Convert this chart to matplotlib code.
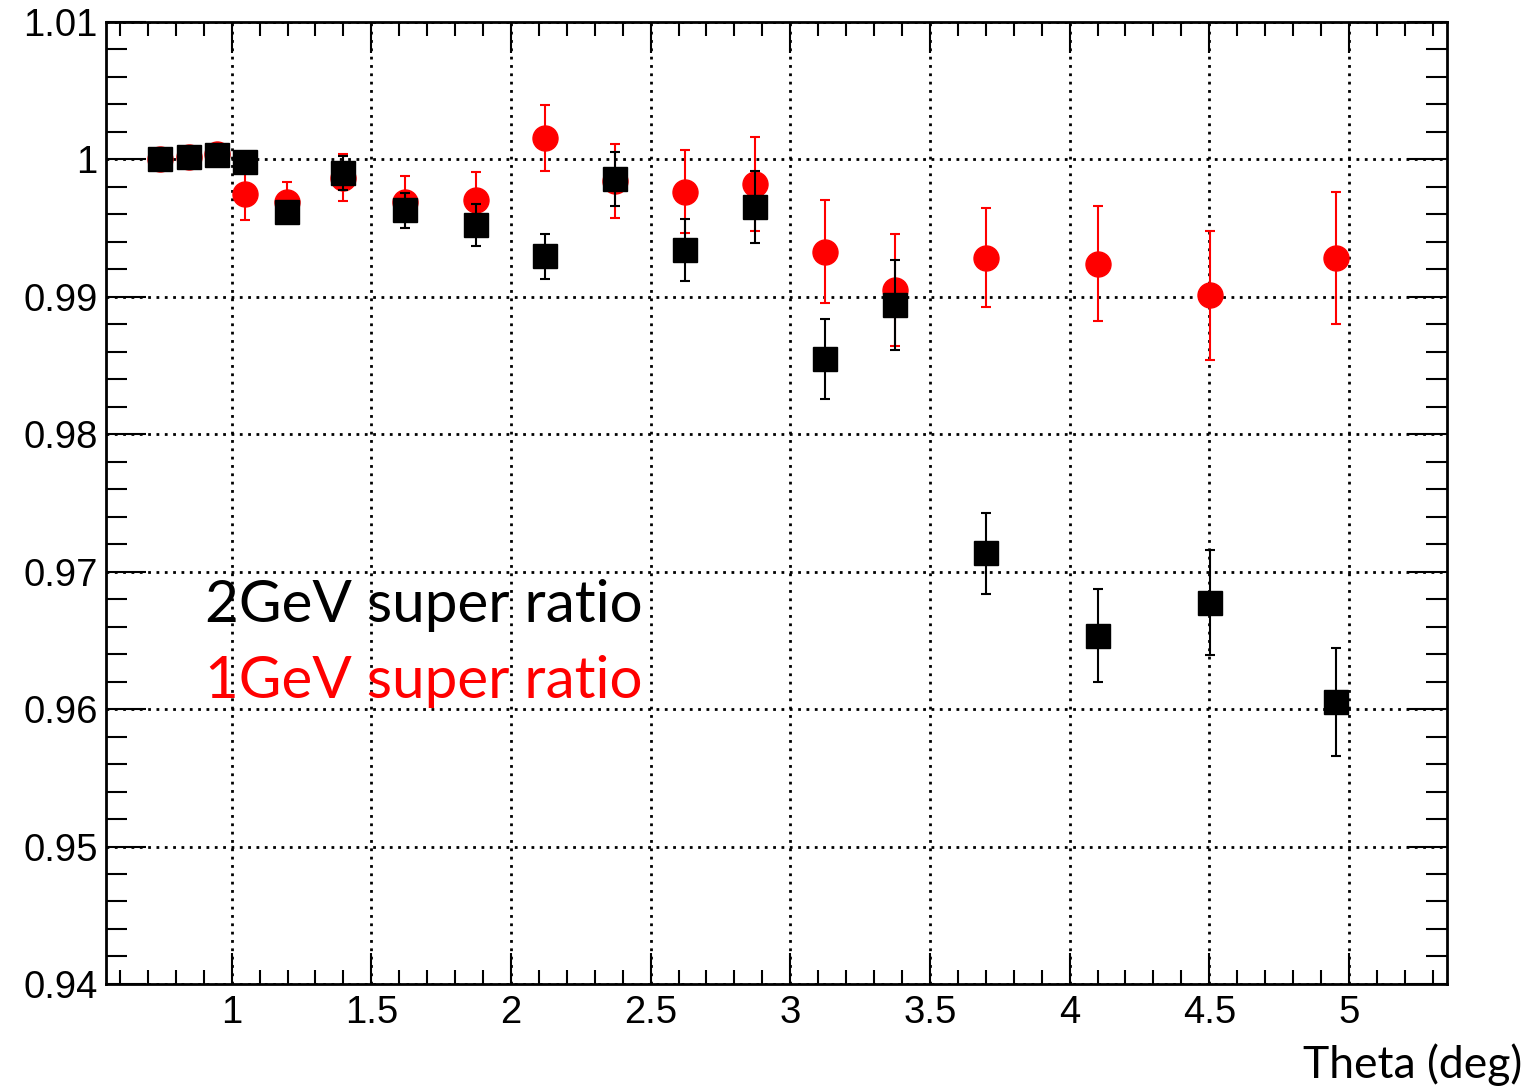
import matplotlib
matplotlib.use("Agg")
import matplotlib.pyplot as plt
from matplotlib.ticker import MultipleLocator, FuncFormatter

# theta bins (deg)
theta = [0.745, 0.848, 0.947, 1.047, 1.198, 1.397, 1.622, 1.873, 2.123,
         2.373, 2.623, 2.874, 3.125, 3.376, 3.699, 4.103, 4.504, 4.953]

# 2 GeV super ratio (black squares)
ratio_2gev = [1.0000, 1.0002, 1.0003, 0.99979, 0.99620, 0.99899, 0.99630, 0.99523, 0.99295,
              0.99860, 0.99341, 0.99652, 0.98546, 0.98941, 0.97134, 0.96535, 0.96775, 0.96050]
err_2gev = [0.00005, 0.00010, 0.00012, 0.00014, 0.00010, 0.00125, 0.00127, 0.00150, 0.00164,
            0.00196, 0.00226, 0.00260, 0.00289, 0.00326, 0.00293, 0.00340, 0.00382, 0.00392]

# 1 GeV super ratio (red circles)
ratio_1gev = [1.0000, 1.0002, 1.0004, 0.99746, 0.99687, 0.99867, 0.99692, 0.99705, 1.00154,
              0.99841, 0.99765, 0.99821, 0.99329, 0.99052, 0.99285, 0.99241, 0.99011, 0.99283]
err_1gev = [0.00005, 0.00010, 0.00017, 0.00190, 0.00150, 0.00170, 0.00188, 0.00206, 0.00242,
            0.00270, 0.00303, 0.00342, 0.00373, 0.00407, 0.00361, 0.00420, 0.00470, 0.00480]

fig = plt.figure(figsize=(15.27, 10.87), dpi=100)
ax = fig.add_axes([0.0694, 0.0948, 0.8780, 0.8850])

ax.errorbar(theta, ratio_1gev, yerr=err_1gev, fmt='o', color='#ff0000', ms=18,
            elinewidth=1.5, capsize=3.5, capthick=1.5, zorder=3)
ax.errorbar(theta, ratio_2gev, yerr=err_2gev, fmt='s', color='black', ms=17.5,
            elinewidth=1.5, capsize=3.5, capthick=1.5, zorder=4)

ax.set_xlim(0.55, 5.35)
ax.set_ylim(0.94, 1.01)

ax.xaxis.set_major_locator(MultipleLocator(0.5))
ax.xaxis.set_minor_locator(MultipleLocator(0.1))
ax.yaxis.set_major_locator(MultipleLocator(0.01))
ax.yaxis.set_minor_locator(MultipleLocator(0.002))
ax.xaxis.set_major_formatter(FuncFormatter(lambda v, p: f"{v:g}"))
ax.yaxis.set_major_formatter(FuncFormatter(lambda v, p: f"{round(v, 3):g}"))

ax.tick_params(which='both', direction='in', top=True, right=True, width=1.5,
               labelsize=27.5, colors='black')
ax.tick_params(axis='x', which='major', length=22, pad=8)
ax.tick_params(axis='x', which='minor', length=10)
ax.tick_params(axis='y', which='major', length=29, pad=6)
ax.tick_params(axis='y', which='minor', length=15)
for lab in ax.get_xticklabels() + ax.get_yticklabels():
    lab.set_fontfamily('Liberation Sans')

for s in ax.spines.values():
    s.set_linewidth(2)

ax.grid(True, which='major', color='black', linestyle=(0, (1, 2)), linewidth=2)
ax.set_axisbelow(True)

ax.text(0.0735, 0.376, "2GeV super ratio", transform=ax.transAxes, fontsize=42,
        family='Lato', color='black', va='baseline')
ax.text(0.0735, 0.297, "1GeV super ratio", transform=ax.transAxes, fontsize=42,
        family='Lato', color='#ff0000', va='baseline')

fig.text(0.997, 0.008, "Theta (deg)", ha='right', va='baseline', fontsize=32,
         family='Lato')

plt.savefig("out.png", dpi=100)
plt.close()
